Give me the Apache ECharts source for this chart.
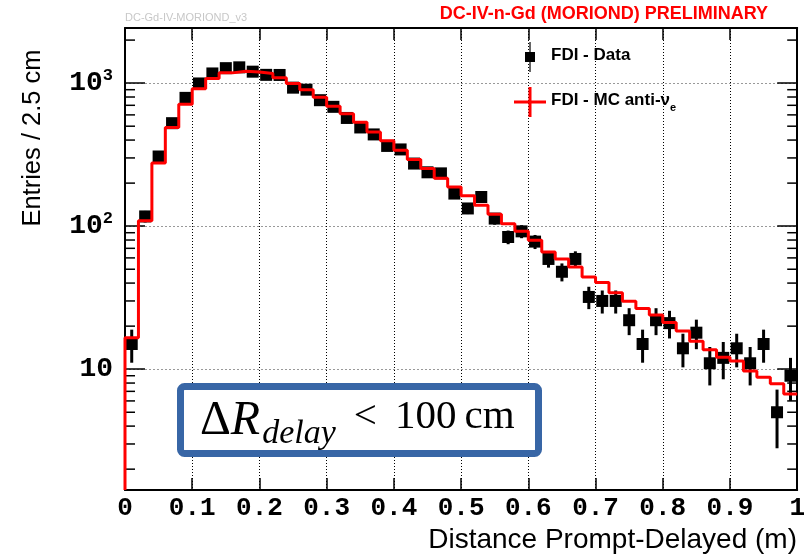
<!DOCTYPE html>
<html><head><meta charset="utf-8">
<script src="https://cdn.jsdelivr.net/npm/echarts@6/dist/echarts.min.js"></script>
<style>html,body{margin:0;padding:0;background:#fff}#c{width:808px;height:558px}</style>
</head><body><div id="c"></div>
<script>
// ---- data ----
const binWidth = 0.02;           // 50 bins from 0 to 1 m
const xMin = 0, xMax = 1;
const yMin = 1.43, yMax = 2430;
const xTickLabels = ['0','0.1','0.2','0.3','0.4','0.5','0.6','0.7','0.8','0.9','1'];
const yTickValues = [10, 100, 1000];
const yTickExponents = ['', '2', '3'];
const dataValues = [15,117,307,525,789,995,1169,1273,1290,1203,1143,1141,930,900,760,683,571,490,438,364,
                    344,274,238,234,169,133,160,113,84,92,78,59,48,59,32,30,30,22,15,22,
                    21,14,18,11,12,14,11,15,5,9];
const dataErrors = [3.9,10.8,17.5,22.9,28.1,31.5,34.2,35.7,35.9,34.7,33.8,33.8,30.5,30,27.6,26.1,23.9,22.1,20.9,19.1,
                    18.5,16.6,15.4,15.3,13,11.5,12.6,10.6,9.2,9.6,8.8,7.7,6.9,7.7,5.7,5.5,5.5,4.7,3.9,4.7,
                    4.6,3.7,4.2,3.3,3.5,3.7,3.3,3.9,2.2,3];
const mcValues = [16.6,109,277,490,713,915,1079,1180,1209,1198,1169,1091,995,901,798,690,610,532,456,395,
                  340,292,253,216,188,163,140,121,104,92.3,79.8,66.1,59.0,51.9,44.2,40.4,34.2,29.9,26.6,23.9,
                  21.2,18.5,15.7,13.7,12.1,11.4,9.7,8.8,7.9,6.7];
const dataName = 'FDI - Data';
const mcName = 'FDI - MC anti-ν_e';

// ---- build series data ----
const pts = dataValues.map((v, i) => [(i + 0.5) * binWidth, v]);
const errs = dataValues.map((v, i) => [(i + 0.5) * binWidth, v - dataErrors[i], v + dataErrors[i]]);
const mcStep = [[xMin, yMin]];
mcValues.forEach((v, i) => mcStep.push([i * binWidth, v]));
mcStep.push([xMax, mcValues[mcValues.length - 1]]);
const minorTicks = [];
for (let e = 0; e <= 3; e++) for (let m = 2; m <= 9; m++) {
  const v = m * Math.pow(10, e);
  if (v > yMin && v < yMax) minorTicks.push([0, v]);
}

const chart = echarts.init(document.getElementById('c'), null, {renderer: 'canvas'});
const monoFont = 'Liberation Mono';
const axisLineStyle = {color: '#000', width: 2};
const option = {
  animation: false,
  backgroundColor: '#fff',
  grid: {left: 125, right: 9, top: 28, bottom: 68, containLabel: false},
  xAxis: [
    {type: 'value', min: xMin, max: xMax, interval: 0.1, position: 'bottom',
     axisLine: {show: true, lineStyle: axisLineStyle},
     axisTick: {show: true, inside: true, length: 12, lineStyle: {color: '#000', width: 1.5}},
     axisLabel: {formatter: v => xTickLabels[Math.round(v * 10)], fontFamily: monoFont, fontWeight: 'bold',
                 fontSize: 26, color: '#000', margin: 5},
     splitLine: {show: true, lineStyle: {color: '#000', type: [1, 2], width: 1}}},
    {type: 'value', min: xMin, max: xMax, interval: 0.1, position: 'top',
     axisLine: {show: true, onZero: false, lineStyle: axisLineStyle},
     axisTick: {show: true, inside: true, length: 12, lineStyle: {color: '#000', width: 1.5}},
     axisLabel: {show: false}, splitLine: {show: false}}
  ],
  yAxis: [
    {type: 'log', logBase: 10, min: yMin, max: yMax, position: 'left',
     axisLine: {show: true, onZero: false, lineStyle: axisLineStyle},
     axisTick: {show: true, inside: true, length: 20, lineStyle: {color: '#000', width: 1.5}},
     axisLabel: {
       showMinLabel: false, showMaxLabel: false, margin: 12,
       formatter: v => {
         const e = Math.log10(v);
         const idx = yTickValues.findIndex(t => Math.abs(Math.log10(t) - e) < 1e-6);
         if (idx < 0) return '';
         return yTickExponents[idx] ? '{b|10}{s|' + yTickExponents[idx] + '}' : '{b|10}';
       },
       rich: {
         b: {fontFamily: monoFont, fontWeight: 'bold', fontSize: 28, color: '#000', lineHeight: 28, verticalAlign: 'bottom'},
         s: {fontFamily: monoFont, fontWeight: 'bold', fontSize: 17, color: '#000', lineHeight: 17, verticalAlign: 'bottom', padding: [0, 0, 13, 0]}
       }
     },
     splitLine: {show: true, lineStyle: {color: '#999', type: [2, 2], width: 1}}},
    {type: 'log', logBase: 10, min: yMin, max: yMax, position: 'right',
     axisLine: {show: true, onZero: false, lineStyle: axisLineStyle},
     axisTick: {show: true, inside: true, length: 20, lineStyle: {color: '#000', width: 1.5}},
     axisLabel: {show: false}, splitLine: {show: false}}
  ],
  legend: {
    orient: 'vertical', left: 509, top: 37, itemWidth: 32, itemHeight: 30, itemGap: 15,
    selectedMode: false, symbolKeepAspect: true,
    data: [
      {name: dataName, icon: 'path://M15.4,0h1.2v30h-1.2z M11,10h10v10h-10z'},
      {name: mcName, icon: 'path://M0,13.5h32v3h-32z M14.5,0h3v30h-3z'}
    ],
    formatter: n => n === mcName ? '{t|FDI - MC anti-ν}{sub|e}' : '{t|' + n + '}',
    textStyle: {
      fontFamily: 'Liberation Sans', fontWeight: 'bold', fontSize: 17, color: '#000',
      rich: {
        t: {fontFamily: 'Liberation Sans', fontWeight: 'bold', fontSize: 17, color: '#000', lineHeight: 20, verticalAlign: 'top'},
        sub: {fontFamily: 'Liberation Sans', fontWeight: 'bold', fontSize: 11, color: '#000', lineHeight: 12, verticalAlign: 'top', padding: [10, 0, 0, 0]}
      }
    }
  },
  graphic: [
    {type: 'text', x: 768, y: 14, z: 10,
     style: {text: 'DC-IV-n-Gd (MORIOND) PRELIMINARY', fill: '#ff0000', font: 'bold 18px "Liberation Sans"',
             align: 'right', verticalAlign: 'middle', textAlign: 'right', textVerticalAlign: 'middle'}},
    {type: 'text', x: 125, y: 18, z: 10,
     style: {text: 'DC-Gd-IV-MORIOND_v3', fill: '#c8c8c8', font: '11px "Liberation Sans"',
             align: 'left', verticalAlign: 'middle', textAlign: 'left', textVerticalAlign: 'middle'}},
    {type: 'text', x: 33, y: 138, rotation: Math.PI / 2, z: 10,
     style: {text: 'Entries / 2.5 cm', fill: '#000', font: '25.5px "Liberation Sans"',
             align: 'center', verticalAlign: 'middle', textAlign: 'center', textVerticalAlign: 'middle'}},
    {type: 'text', x: 797, y: 540, z: 10,
     style: {text: 'Distance Prompt-Delayed (m)', fill: '#000', font: '28px "Liberation Sans"',
             align: 'right', verticalAlign: 'middle', textAlign: 'right', textVerticalAlign: 'middle'}},
    {type: 'rect', z: 10, shape: {x: 180.5, y: 386.5, width: 358, height: 67, r: 4},
     style: {fill: '#fff', stroke: '#3866a6', lineWidth: 7}},
    {type: 'text', x: 200, y: 419, z: 11,
     style: {
       text: '{d|Δ}{i|R}{s|delay}{sp| }{n|<}{sp| }{n|100}{sp2| }{n|cm}',
       align: 'left', verticalAlign: 'middle', textAlign: 'left', textVerticalAlign: 'middle',
       rich: {
         d: {fontFamily: 'Liberation Serif', fontSize: 48, fill: '#000', color: '#000', lineHeight: 44, verticalAlign: 'top'},
         n: {fontFamily: 'Liberation Serif', fontSize: 41, fill: '#000', color: '#000', lineHeight: 44, verticalAlign: 'top'},
         i: {fontFamily: 'Liberation Serif', fontStyle: 'italic', fontSize: 48, fill: '#000', color: '#000', lineHeight: 44, verticalAlign: 'top'},
         s: {fontFamily: 'Liberation Serif', fontStyle: 'italic', fontSize: 34, fill: '#000', color: '#000', lineHeight: 32, verticalAlign: 'top', padding: [20, 0, 0, 2]},
         sp: {fontFamily: 'Liberation Serif', fontSize: 72, lineHeight: 44, verticalAlign: 'top'},
         sp2: {fontFamily: 'Liberation Serif', fontSize: 32, lineHeight: 44, verticalAlign: 'top'}
       }
     }}
  ],
  series: [
    {type: 'custom', name: 'minorTicks', silent: true, clip: false, z: 1,
     data: minorTicks, encode: {x: 0, y: 1},
     renderItem: (params, api) => {
       const y = api.coord([0, api.value(1)])[1];
       const cs = params.coordSys;
       const st = {stroke: '#000', lineWidth: 1.5};
       return {type: 'group', children: [
         {type: 'line', shape: {x1: cs.x, y1: y, x2: cs.x + 10, y2: y}, style: st},
         {type: 'line', shape: {x1: cs.x + cs.width - 10, y1: y, x2: cs.x + cs.width, y2: y}, style: st}
       ]};
     }},
    {type: 'custom', name: 'dataErrors', silent: true, z: 3,
     data: errs, encode: {x: 0, y: [1, 2]},
     renderItem: (params, api) => {
       const p1 = api.coord([api.value(0), api.value(1)]);
       const p2 = api.coord([api.value(0), api.value(2)]);
       return {type: 'line', shape: {x1: p1[0], y1: p1[1], x2: p2[0], y2: p2[1]},
               style: {stroke: '#000', lineWidth: 3}};
     }},
    {type: 'scatter', name: dataName, data: pts, symbol: 'rect', symbolSize: 12, z: 4,
     itemStyle: {color: '#000', opacity: 1}},
    {type: 'line', name: mcName, data: mcStep, step: 'end', showSymbol: false, symbol: 'none',
     clip: false, z: 5, color: '#ff0000',
     itemStyle: {color: '#ff0000'},
     lineStyle: {color: '#ff0000', width: 3}}
  ]
};
chart.setOption(option);
</script></body></html>
